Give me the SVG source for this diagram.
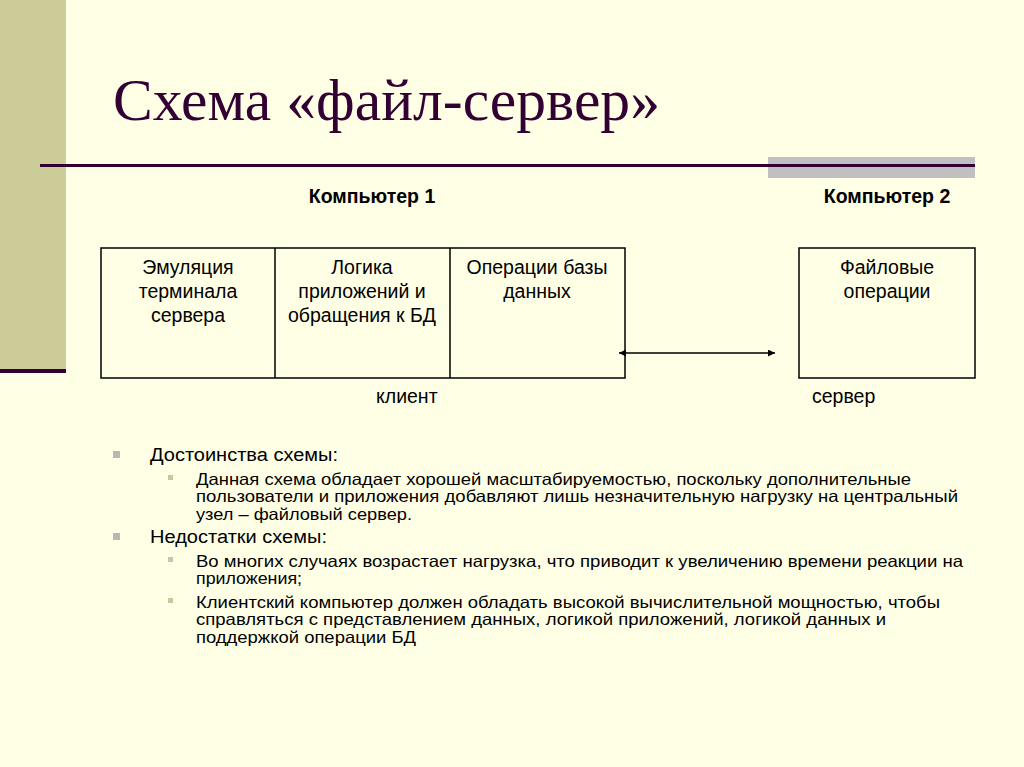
<svg xmlns="http://www.w3.org/2000/svg" width="1024" height="767" viewBox="0 0 1024 767">
<style>
.t{font-family:"Liberation Sans",Arial,sans-serif;fill:#000}
.h{font-size:19.5px;font-weight:bold;text-anchor:middle}
.b{font-size:19.5px;text-anchor:middle}
.l{font-size:19.5px}
.bl{font-size:18px}
.sl{font-size:16.5px}
.box{fill:none;stroke:#000;stroke-width:1.5}
</style>
<defs>
<marker id="ah" viewBox="0 0 10 10" refX="10" refY="5" markerWidth="9" markerHeight="7" orient="auto-start-reverse" markerUnits="userSpaceOnUse"><path d="M0,0L10,5L0,10z" fill="#000"/></marker>
</defs>
<rect width="1024" height="767" fill="#ffffe5"/>
<rect x="0" y="0" width="66" height="371" fill="#cccc99"/>
<rect x="0" y="369" width="66" height="4" fill="#330033"/>
<rect x="768" y="157" width="207" height="21" fill="#c0c0c0"/>
<rect x="40" y="164" width="935" height="3" fill="#330033"/>
<text x="113" y="120" style="font-family:'Liberation Serif','Times New Roman',serif;font-size:60px;fill:#330033" textLength="547" lengthAdjust="spacingAndGlyphs">Схема «файл-сервер»</text>
<text class="t h" x="372" y="203">Компьютер 1</text>
<text class="t h" x="887" y="203">Компьютер 2</text>
<g id="client">
<rect class="box" x="101" y="248" width="524" height="130"/>
<line x1="275" y1="248" x2="275" y2="378" stroke="#000" stroke-width="1.5"/>
<line x1="450" y1="248" x2="450" y2="378" stroke="#000" stroke-width="1.5"/>
<text class="t b" x="188" y="274">Эмуляция</text>
<text class="t b" x="188" y="298">терминала</text>
<text class="t b" x="188" y="322">сервера</text>
<text class="t b" x="362" y="274">Логика</text>
<text class="t b" x="362" y="298">приложений и</text>
<text class="t b" x="362" y="322">обращения к БД</text>
<text class="t b" x="537" y="274">Операции базы</text>
<text class="t b" x="537" y="298">данных</text>
<text class="t l" x="376" y="403">клиент</text>
</g>
<g id="server">
<rect class="box" x="799" y="248" width="176" height="130"/>
<text class="t b" x="887" y="274">Файловые</text>
<text class="t b" x="887" y="298">операции</text>
<text class="t l" x="812" y="403">сервер</text>
</g>
<g id="connectors">
<line x1="619" y1="353" x2="775" y2="353" stroke="#000" stroke-width="1.5" marker-start="url(#ah)" marker-end="url(#ah)"/>
</g>
<g id="bullets">
<rect x="113" y="451" width="7" height="7" fill="#b8b8b8"/>
<rect x="113" y="533" width="7" height="7" fill="#b8b8b8"/>
<rect x="168" y="475" width="5" height="5" fill="#c8c8a0"/>
<rect x="168" y="557" width="5" height="5" fill="#c8c8a0"/>
<rect x="168" y="598" width="5" height="5" fill="#c8c8a0"/>
<text class="t bl" x="150" y="461" textLength="188" lengthAdjust="spacingAndGlyphs">Достоинства схемы:</text>
<text class="t sl" x="196" y="485" textLength="715" lengthAdjust="spacingAndGlyphs">Данная схема обладает хорошей масштабируемостью, поскольку дополнительные</text>
<text class="t sl" x="196" y="502" textLength="762" lengthAdjust="spacingAndGlyphs">пользователи и приложения добавляют лишь незначительную нагрузку на центральный</text>
<text class="t sl" x="196" y="520" textLength="216" lengthAdjust="spacingAndGlyphs">узел – файловый сервер.</text>
<text class="t bl" x="150" y="543" textLength="177" lengthAdjust="spacingAndGlyphs">Недостатки схемы:</text>
<text class="t sl" x="196" y="567" textLength="767" lengthAdjust="spacingAndGlyphs">Во многих случаях возрастает нагрузка, что приводит к увеличению времени реакции на</text>
<text class="t sl" x="196" y="584" textLength="106" lengthAdjust="spacingAndGlyphs">приложения;</text>
<text class="t sl" x="196" y="608" textLength="744" lengthAdjust="spacingAndGlyphs">Клиентский компьютер должен обладать высокой вычислительной мощностью, чтобы</text>
<text class="t sl" x="196" y="625" textLength="690" lengthAdjust="spacingAndGlyphs">справляться с представлением данных, логикой приложений, логикой данных и</text>
<text class="t sl" x="196" y="643" textLength="220" lengthAdjust="spacingAndGlyphs">поддержкой операции БД</text>
</g>
</svg>
